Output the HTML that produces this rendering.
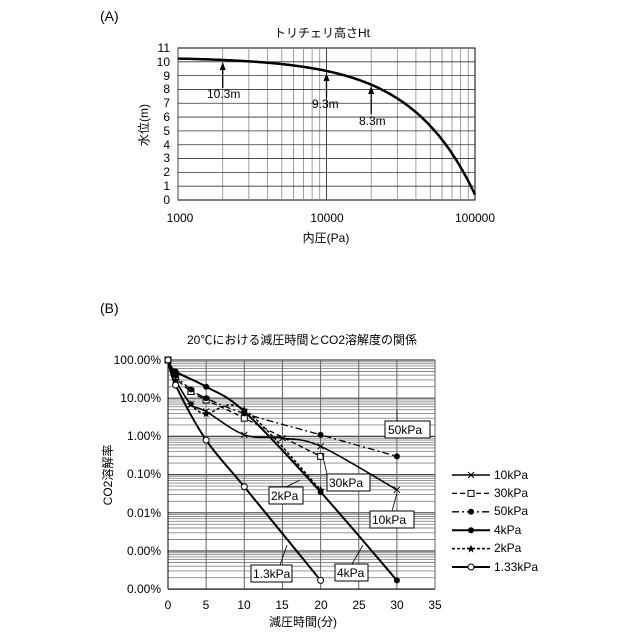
<!DOCTYPE html>
<html><head><meta charset="utf-8"><style>
body{margin:0;background:#fff}
svg{display:block;font-family:"Liberation Sans","Noto Sans CJK JP",sans-serif}
</style></head><body>
<svg id="s" width="640" height="640" viewBox="0 0 640 640">
<rect width="640" height="640" fill="#fff"/>
<g id="gA"></g><g id="gB"></g>
<text x="100" y="21" font-size="14">(A)</text>
<text x="322" y="37" font-size="12" text-anchor="middle">トリチェリ高さHt</text>
<g font-size="12" text-anchor="end">
<text x="170" y="52">11</text><text x="170" y="66">10</text><text x="170" y="80">9</text><text x="170" y="93">8</text><text x="170" y="107">7</text><text x="170" y="121">6</text><text x="170" y="135">5</text><text x="170" y="149">4</text><text x="170" y="162">3</text><text x="170" y="176">2</text><text x="170" y="190">1</text><text x="170" y="204">0</text>
</g>
<g font-size="12" text-anchor="middle">
<text x="180" y="222">1000</text><text x="327" y="222">10000</text><text x="475" y="222">100000</text>
<text x="326" y="242">内圧(Pa)</text>
</g>
<text transform="translate(148,125) rotate(-90)" font-size="12" text-anchor="middle">水位(m)</text>
<g font-size="12" fill="#000">
<text x="207" y="98">10.3m</text><text x="312" y="108">9.3m</text><text x="359" y="125">8.3m</text>
</g>
<text x="100" y="313" font-size="14">(B)</text>
<text x="302" y="344" font-size="12" text-anchor="middle">20℃における減圧時間とCO2溶解度の関係</text>
<g font-size="12" text-anchor="end">
<text x="161" y="364">100.00%</text><text x="161" y="402">10.00%</text><text x="161" y="440">1.00%</text><text x="161" y="478">0.10%</text><text x="161" y="517">0.01%</text><text x="161" y="555">0.00%</text><text x="161" y="593">0.00%</text>
</g>
<g font-size="12" text-anchor="middle">
<text x="168" y="609">0</text><text x="206" y="609">5</text><text x="244" y="609">10</text><text x="282" y="609">15</text><text x="321" y="609">20</text><text x="359" y="609">25</text><text x="397" y="609">30</text><text x="435" y="609">35</text>
<text x="303" y="626">減圧時間(分)</text>
</g>
<text transform="translate(112,475) rotate(-90)" font-size="12" text-anchor="middle">CO2溶解率</text>
<g font-size="12">
<text x="494" y="479">10kPa</text><text x="494" y="497">30kPa</text><text x="494" y="515">50kPa</text><text x="494" y="534">4kPa</text><text x="494" y="552">2kPa</text><text x="494" y="571">1.33kPa</text>
</g>
<g id="lb" font-size="12">
<rect x="385" y="421" width="45" height="17" fill="#fff" stroke="#000"/><text x="388" y="434">50kPa</text>
<rect x="327" y="474" width="43" height="17" fill="#fff" stroke="#000"/><text x="329" y="487">30kPa</text>
<rect x="269" y="487" width="34" height="17" fill="#fff" stroke="#000"/><text x="271" y="500">2kPa</text>
<rect x="370" y="511" width="44" height="17" fill="#fff" stroke="#000"/><text x="372" y="524">10kPa</text>
<rect x="251" y="565" width="41" height="17" fill="#fff" stroke="#000"/><text x="253" y="578">1.3kPa</text>
<rect x="335" y="564" width="33" height="17" fill="#fff" stroke="#000"/><text x="337" y="577">4kPa</text>
</g>
</svg>
<script>
var NS="http://www.w3.org/2000/svg";
function el(p,t,a){var e=document.createElementNS(NS,t);for(var k in a)e.setAttribute(k,a[k]);p.appendChild(e);return e;}
var A=document.getElementById("gA");
function ax(P){return 178+148.5*Math.log10(P/1000);}
function ay(v){return 200-v*13.82;}
el(A,"rect",{x:178,y:48,width:297,height:152,fill:"#fff",stroke:"#000","stroke-width":1});
for(var d=1000;d<100000;d*=10)for(var m=1;m<10;m++){var x=ax(d*m);el(A,"line",{x1:x,y1:48,x2:x,y2:200,stroke:m==1?"#444":"#888","stroke-width":m==1?1:0.8});}
for(var v=1;v<11;v++){el(A,"line",{x1:178,y1:ay(v),x2:475,y2:ay(v),stroke:"#333","stroke-width":0.8});}
var pts=[];for(var i=0;i<=300;i++){var P=1000*Math.pow(10,2*i/300);var h=(101325-P)/9807+0.25*P/100000;pts.push(ax(P).toFixed(1)+","+ay(h).toFixed(1));}
el(A,"polyline",{points:pts.join(" "),fill:"none",stroke:"#000","stroke-width":2.5});
[[2000,62,88],[10000,73,98],[20000,86,114]].forEach(function(a){var x=ax(a[0]);el(A,"line",{x1:x,y1:a[1]+4,x2:x,y2:a[2],stroke:"#000","stroke-width":1.3});el(A,"polygon",{points:x+","+a[1]+" "+(x-3)+","+(a[1]+8)+" "+(x+3)+","+(a[1]+8),fill:"#000"});});
var B=document.getElementById("gB");
function bx(t){return 168+t*7.63;}
function by(f){return 360-38.2*Math.log10(f);}
el(B,"rect",{x:168,y:360,width:267,height:229,fill:"#fff"});
for(var d=1e-6;d<1;d*=10)for(var m=2;m<10;m++){var y=by(d*m);el(B,"line",{x1:168,y1:y,x2:435,y2:y,stroke:"#888","stroke-width":0.9});}
for(var k=0;k<=6;k++){var y=by(Math.pow(10,-k));el(B,"line",{x1:168,y1:y,x2:435,y2:y,stroke:"#444","stroke-width":1.2});}
for(var t=0;t<=35;t+=5){el(B,"line",{x1:bx(t),y1:360,x2:bx(t),y2:589,stroke:t==0?"#000":"#666","stroke-width":1});}
el(B,"line",{x1:168,y1:589,x2:435,y2:589,stroke:"#000"});
function path(p){var q=p.map(function(a){return [bx(a[0]),by(a[1])];});var s="M"+q[0][0]+","+q[0][1];
for(var i=0;i<q.length-1;i++){var p0=q[i-1]||q[i],p1=q[i],p2=q[i+1],p3=q[i+2]||p2;
s+=" C"+(p1[0]+(p2[0]-p0[0])/6)+","+(p1[1]+(p2[1]-p0[1])/6)+" "+(p2[0]-(p3[0]-p1[0])/6)+","+(p2[1]-(p3[1]-p1[1])/6)+" "+p2[0]+","+p2[1];}return s;}
var S=[
{d:[[0,1],[1,0.3],[3,0.07],[5,0.045],[10,0.011],[15,0.009],[20,0.0055],[30,0.0004]],dash:"",mk:"x",w:1.5},
{d:[[0,1],[1,0.35],[3,0.15],[5,0.09],[10,0.03],[20,0.003]],dash:"5,3",mk:"sq",w:1.3},
{d:[[0,1],[1,0.4],[3,0.17],[5,0.1],[10,0.04],[20,0.011],[30,0.003]],dash:"7,3,2,3",mk:"dot",w:1.3},
{d:[[0,1],[1,0.5],[5,0.2],[10,0.045],[20,0.00035],[30,1.7e-6]],dash:"",mk:"dot",w:2},
{d:[[0,1],[1,0.3],[3,0.07],[5,0.04],[10,0.05],[20,0.0004]],dash:"3,2",mk:"star",w:1.5},
{d:[[0,1],[1,0.22],[5,0.008],[10,0.00048],[20,1.7e-6]],dash:"",mk:"o",w:2}];
function mark(g,x,y,t){if(t=="x"){el(g,"path",{d:"M"+(x-3)+","+(y-3)+"L"+(x+3)+","+(y+3)+"M"+(x-3)+","+(y+3)+"L"+(x+3)+","+(y-3),stroke:"#000","stroke-width":1});}
else if(t=="sq")el(g,"rect",{x:x-3,y:y-3,width:6,height:6,fill:"#fff",stroke:"#000"});
else if(t=="dot")el(g,"circle",{cx:x,cy:y,r:3,fill:"#000"});
else if(t=="star")el(g,"path",{d:"M"+x+","+(y-4)+"L"+(x+1.2)+","+(y-1)+"L"+(x+4)+","+(y-1)+"L"+(x+1.8)+","+(y+1)+"L"+(x+2.5)+","+(y+4)+"L"+x+","+(y+2)+"L"+(x-2.5)+","+(y+4)+"L"+(x-1.8)+","+(y+1)+"L"+(x-4)+","+(y-1)+"L"+(x-1.2)+","+(y-1)+"Z",fill:"#000"});
else el(g,"circle",{cx:x,cy:y,r:3,fill:"#fff",stroke:"#000"});}
S.forEach(function(s,i){var a={d:path(s.d),fill:"none",stroke:"#000","stroke-width":s.w};if(s.dash)a["stroke-dasharray"]=s.dash;el(B,"path",a);
s.d.forEach(function(p){mark(B,bx(p[0]),by(p[1]),s.mk);});
var ly=475+i*18.4;var la={x1:452,y1:ly,x2:490,y2:ly,stroke:"#000","stroke-width":s.w};if(s.dash)la["stroke-dasharray"]=s.dash;el(B,"line",la);mark(B,471,ly,s.mk);});
[[397,410,397,421],[322,453,327,474],[300,480,286,487],[397,493,392,511],[287,545,280,565],[363,545,352,564]].forEach(function(l){el(B,"polyline",{points:l[0]+","+l[1]+" "+l[2]+","+l[3],fill:"none",stroke:"#000","stroke-width":0.8});});
</script>
</body></html>
